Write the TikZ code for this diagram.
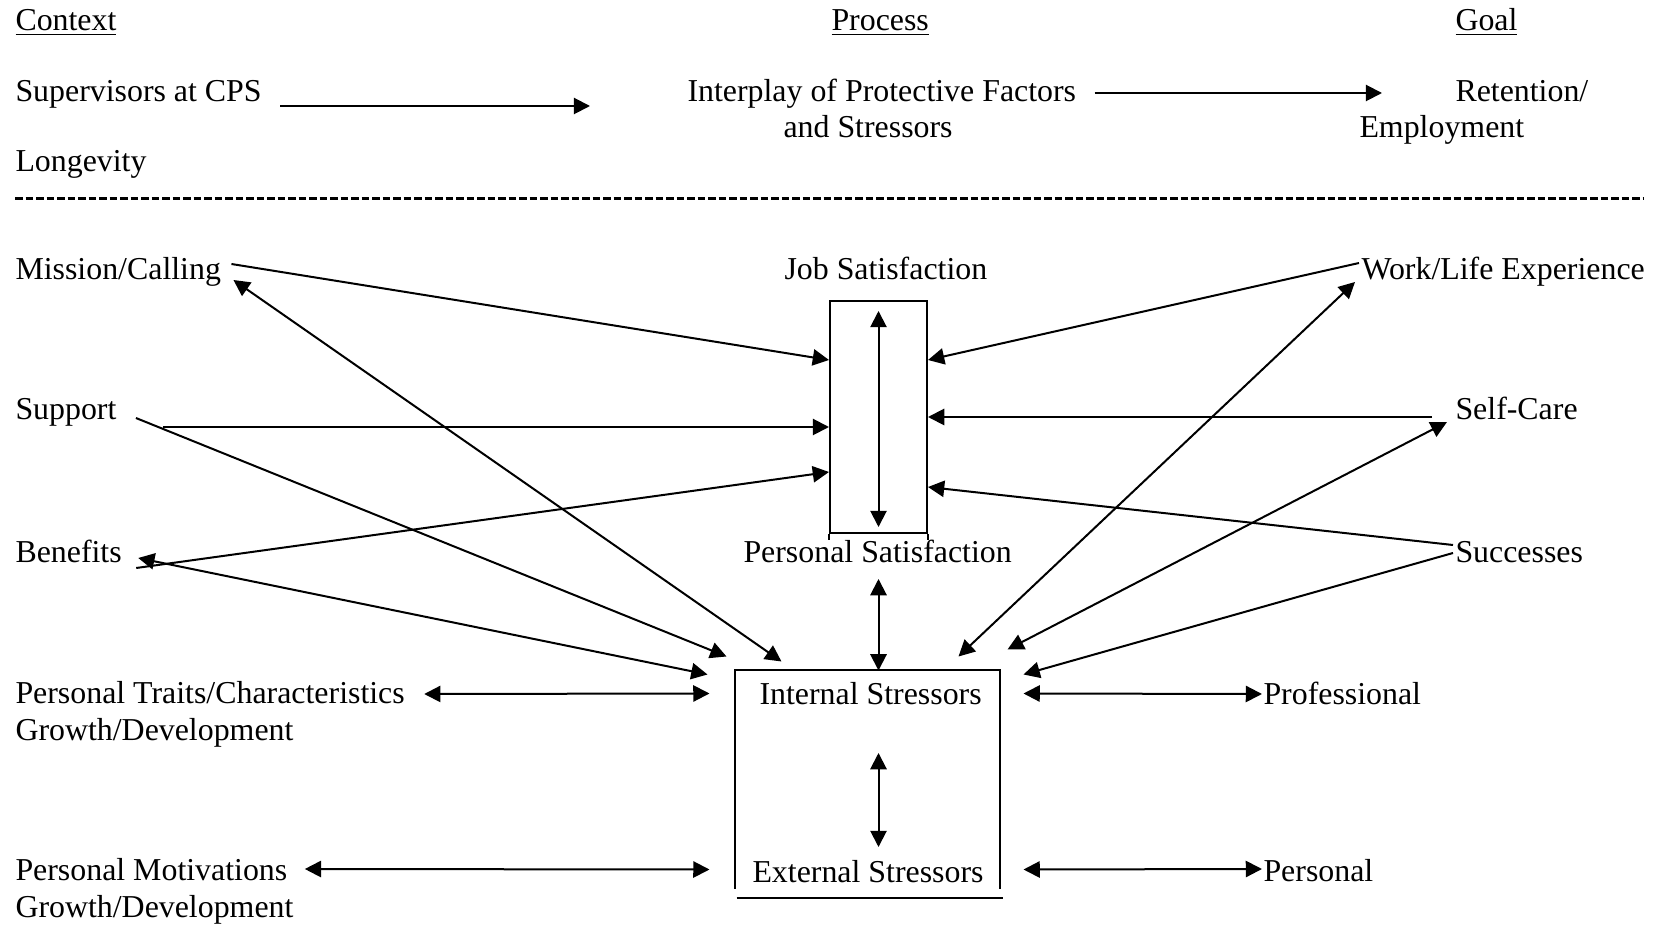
\documentclass[tikz,border=0pt]{standalone}
\usepackage{fontspec}
\setmainfont{Liberation Serif}
\usetikzlibrary{arrows.meta,positioning,calc}

\begin{document}
\begin{tikzpicture}[x=0.4pt,y=-0.4pt,font=\fontsize{12.75}{14.4}\selectfont,
  lbl/.style={inner sep=0pt,anchor=base west},
  arr/.style={-{Triangle[length=6.5pt,width=6.5pt]},line width=0.8pt},
  dbl/.style={{Triangle[length=6.5pt,width=6.5pt]}-{Triangle[length=6.5pt,width=6.5pt]},line width=0.8pt},
  frame/.style={line width=0.8pt}]
\useasboundingbox (0,0) rectangle (1661,925);
\node[lbl] (context) at (15,31) {\underline{Context}};
\node[lbl] (process) at (831,31) {\underline{Process}};
\node[lbl] (goal) at (1455,31) {\underline{Goal}};
\node[lbl] (superv) at (15,102) {Supervisors at CPS};
\node[lbl] (longev) at (15,172) {Longevity};
\node[lbl] (interplay) at (687,102) {Interplay of Protective Factors};
\node[lbl] (interplay2) at (783,138) {and Stressors};
\node[lbl] (retention) at (1455,102) {Retention/};
\node[lbl] (employ) at (1359,138) {Employment};
\draw[arr] ($(superv.base east)+(18,4)$) -- ($(interplay.base west)+(-97,4)$);
\draw[arr] ($(interplay.base east)+(18,-9)$) -- ($(retention.base west)+(-73,-9)$);
\draw[line width=1.2pt,dash pattern=on 3pt off 1.2pt] (15,199) -- (1644,199);
\node[lbl] (mission) at (15,280) {Mission/Calling};
\node[lbl] (support) at (15,420) {Support};
\node[lbl] (benefits) at (15,562) {Benefits};
\node[lbl] (traits) at (15,703) {Personal Traits/Characteristics};
\node[lbl] (traits2) at (15,740) {Growth/Development};
\node[lbl] (motiv) at (15,880) {Personal Motivations};
\node[lbl] (motiv2) at (15,917) {Growth/Development};
\node[lbl] (jobsat) at (784,280) {Job Satisfaction};
\node[frame,draw,minimum width=38.8pt,minimum height=92.8pt,inner sep=0pt] (jsbox) at (878.5,417) {};
\draw[frame] (jsbox.south west) -- ++(0,6) (jsbox.south east) -- ++(0,6);
\node[lbl] (perssat) at (743,562) {Personal Satisfaction};
\node[minimum width=105.6pt,minimum height=86.8pt,inner sep=0pt] (stbox) at (867,779.5) {};
\draw[frame] (stbox.south west) -- (stbox.north west) -- (stbox.north east) -- (stbox.south east);
\draw[frame] ($(stbox.south west)+(2,9)$) -- ($(stbox.south east)+(3,9)$);
\node[lbl] (intstr) at (759,704) {Internal Stressors};
\node[lbl] (extstr) at (752,882) {External Stressors};
\node[lbl] (worklife) at (1361,280) {Work/Life Experience};
\node[lbl] (selfcare) at (1455,420) {Self-Care};
\node[lbl] (success) at (1455,563) {Successes};
\node[lbl] (prof) at (1263,704) {Professional};
\node[lbl] (pers) at (1263,881) {Personal};
\draw[dbl] ($(jsbox.north)+(0,11)$) -- ($(jsbox.south)+(0,-7)$);
\draw[dbl] ($(jsbox.center |- perssat.base)+(0,17)$) -- (jsbox.center |- stbox.north);
\draw[dbl] ($(jsbox.center |- intstr.base)+(0,49)$) -- ($(jsbox.center |- extstr.base)+(0,-35)$);
\draw[arr] ($(mission.base east)+(10,-16)$) -- ($(jsbox.west)+(0,-57)$);
\draw[dbl] ($(mission.base east)+(12,0)$) -- ($(stbox.north west)+(47,-9)$);
\draw[arr] ($(support.base east)+(19,-2)$) -- ($(stbox.north west)+(-8,-14)$);
\draw[arr] ($(support.base east)+(46,7)$) -- ($(jsbox.west)+(0,10)$);
\draw[arr] ($(benefits.base east)+(14,6)$) -- ($(jsbox.west)+(0,55)$);
\draw[dbl] ($(benefits.base east)+(16,-4)$) -- ($(stbox.north west)+(-27,4)$);
\draw[dbl] ($(traits.base east)+(19,-9)$) -- ($(stbox.north west)+(-25,23)$);
\draw[dbl] ($(motiv.base east)+(17,-11)$) -- ($(stbox.south west)+(-25,-19)$);
\draw[arr] ($(worklife.base west)+(-2,-17)$) -- ($(jsbox.east)+(0,-57)$);
\draw[dbl] ($(stbox.north east)+(-41,-14)$) -- ($(worklife.base west)+(-6,2)$);
\draw[arr] ($(selfcare.base west)+(-23,-3)$) -- (jsbox.east);
\draw[dbl] ($(stbox.north east)+(8,-21)$) -- ($(selfcare.base west)+(-8,2)$);
\draw[arr] ($(success.base west)+(-2,-18)$) -- ($(jsbox.east)+(0,70)$);
\draw[arr] ($(success.base west)+(-2,-10)$) -- ($(stbox.north east)+(24,4)$);
\draw[dbl] ($(stbox.north east)+(24,23)$) -- ($(prof.base west)+(-1,-10)$);
\draw[dbl] ($(stbox.south east)+(24,-19)$) -- ($(pers.base west)+(-1,-12)$);
\end{tikzpicture}
\end{document}
